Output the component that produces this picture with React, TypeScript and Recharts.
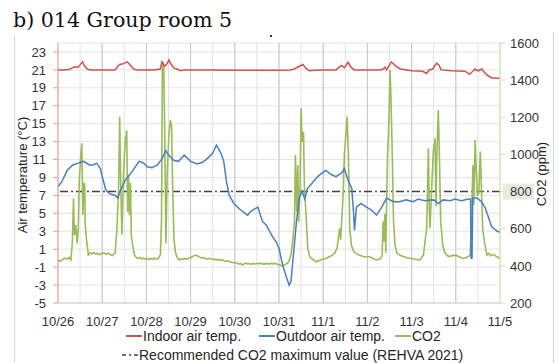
import React from "react";
import { LineChart, Line, XAxis, YAxis, CartesianGrid, ReferenceLine } from "recharts";

const dayLabels = ["10/26", "10/27", "10/28", "10/29", "10/30", "10/31", "11/1", "11/2", "11/3", "11/4", "11/5"];
const tempTicks = [-5, -3, -1, 1, 3, 5, 7, 9, 11, 13, 15, 17, 19, 21, 23];
const co2Ticks = [200, 400, 600, 800, 1000, 1200, 1400, 1600];
const co2Limit = 800;

// hours counted from 10/26 00:00
const indoorHours = [
  0, 3, 6, 7.5, 9, 11, 12.5, 13.3, 14.5, 16, 17.5, 20, 24, 28, 31, 32.5, 33.5, 35.6, 37.5, 39, 41, 43, 48, 52,
  55.5, 56.5, 58, 59.3, 60.2, 61.5, 63, 64.7, 66.5, 68.4, 72, 84, 96, 108, 121, 126, 128.4, 130, 133, 134.5,
  136.5, 140, 145, 151, 153.8, 155.5, 157.5, 159, 161, 168, 175, 176.5, 177.5, 178.4, 179.5, 181, 183.5, 186,
  192, 198, 200.2, 201.5, 203.5, 205.6, 207, 208, 214, 221, 223.5, 225.5, 226.5, 228, 230, 232.5, 235.5, 238, 240,
];
const indoorTemp = [
  21.0, 21.0, 21.05, 21.2, 21.35, 21.3, 21.7, 21.9, 21.4, 21.1, 21.0, 21.0, 20.98, 21.0, 21.0, 21.4, 21.6, 21.7,
  21.9, 21.6, 21.1, 21.0, 21.0, 21.0, 21.1, 21.9, 21.4, 21.7, 22.1, 21.6, 21.2, 21.1, 20.9, 21.0, 21.0, 20.98,
  20.97, 20.96, 20.95, 21.0, 21.1, 21.3, 21.6, 21.2, 20.9, 20.95, 21.0, 21.0, 21.5, 21.25, 21.85, 21.3, 21.0,
  21.0, 21.0, 21.1, 21.3, 21.0, 21.4, 21.9, 21.4, 21.1, 20.9, 20.85, 20.6, 21.0, 21.1, 21.75, 21.5, 21.0, 20.9,
  20.85, 20.5, 20.9, 21.1, 20.9, 21.1, 20.5, 20.1, 20.1, 20.05,
];

const outdoorHours = [
  0, 2, 5, 8, 11, 14, 17, 19, 21, 23, 24, 26, 28, 31, 32.5, 34, 36.5, 40, 44, 46.5, 48.5, 51, 54, 56.5, 58.5,
  60, 63, 65.5, 68.5, 72, 75.5, 78.5, 81, 84, 86, 88.5, 90, 91.5, 93, 95.5, 99, 103, 104.5, 108.5, 111, 113,
  116.5, 118.5, 120, 122, 124, 125.5, 126.5, 127.5, 129.5, 131, 132.5, 134, 135.5, 138.5, 141, 144, 145.5,
  148.5, 151, 154, 155.5, 157.5, 159.5, 160.5, 161, 162, 164.5, 167.5, 170, 173, 175.5, 178.5, 182, 185.5,
  189, 193, 195.5, 199, 204, 206.5, 209, 213, 215.5, 219, 223, 224, 224.3, 224.8, 225.2, 227.5, 230, 232, 234,
  235.5, 238.5, 240,
];
const outdoorTemp = [
  8.0, 8.5, 9.8, 10.4, 10.6, 10.8, 10.4, 10.4, 10.6, 10.0, 9.1, 7.6, 7.2, 7.0, 6.7, 7.6, 8.7, 9.6, 10.8, 10.6,
  10.2, 10.1, 10.4, 11.1, 12.0, 11.5, 10.9, 10.8, 11.5, 10.8, 10.5, 10.7, 11.1, 11.7, 12.6, 11.7, 10.8, 8.5,
  7.0, 6.1, 5.4, 4.8, 5.2, 5.7, 4.1, 3.7, 2.4, 1.8, 1.1, -0.8, -2.1, -3.0, -2.6, -0.4, 4.1, 6.7, 7.5, 6.6,
  7.8, 8.5, 9.1, 9.6, 9.8, 9.3, 9.1, 9.5, 10.0, 8.7, 7.8, 5.0, 3.1, 5.7, 6.1, 5.7, 5.4, 4.8, 5.6, 6.7, 6.3,
  6.3, 6.5, 6.3, 6.6, 6.4, 6.5, 6.1, 6.5, 6.4, 6.6, 6.4, 6.6, 6.6, 0.0, 0.0, 6.7, 6.7, 6.3, 5.6, 4.4, 3.5,
  3.0, 2.9,
];

const co2Hours = [
  0, 1, 2, 3, 4, 5, 6, 7, 7.8, 8.4, 8.9, 9.6, 10.4, 11, 11.6, 12.4, 12.9, 13.5, 14.1, 14.5, 14.8, 15.6, 16.5,
  17.5, 18.5, 19.5, 20.5, 21.5, 22.5, 23.5, 24.5, 25.5, 26.5, 27.5, 28.5, 29.5, 30.5, 31, 32, 32.9, 33.5, 34,
  34.7, 35.6, 36.5, 37.3, 37.8, 38.3, 38.8, 39.4, 39.8, 40.7, 41.5, 42.5, 43.5, 44.5, 45.5, 46.5, 47.5, 48.5,
  49.5, 50.5, 51.5, 52.5, 53.5, 54.5, 55.6, 56.2, 56.7, 57.4, 58, 58.6, 59.3, 60.2, 61, 61.7, 62.3, 63, 63.8,
  65, 66, 67, 68, 69, 70, 71, 72, 73, 74, 75, 76, 77, 78, 79, 80, 81, 82, 83, 84, 85, 86, 87, 88, 89, 90, 91,
  92, 93, 94, 95, 96, 97, 98, 99, 100, 101, 102, 103, 104, 105, 106, 107, 108, 109, 110, 111, 112, 113, 114,
  115, 116, 117, 118, 119, 120, 121, 122, 123, 124, 124.7, 125.5, 126.5, 127.5, 128.4, 128.9, 129.6, 130.2,
  130.7, 131.4, 132, 132.5, 133.3, 133.8, 134.7, 135.6, 136.5, 137.5, 139, 140.2, 141.5, 143, 144.5, 145.6,
  147, 148.5, 150.2, 151.5, 152.9, 153.5, 154, 154.8, 155.5, 156.2, 157, 157.7, 158.4, 159.3, 160.5, 162.5,
  164.5, 166.5, 169, 171, 173, 175, 176, 176.5, 177, 177.5, 178, 178.5, 179, 179.5, 180.3, 180.9, 181.5, 182.2,
  183, 184, 185.5, 187.5, 190, 192, 194, 196.5, 198.4, 199.3, 200.2, 201.1, 201.6, 202, 202.9, 203.8, 204.7,
  205.3, 205.6, 206.5, 207.1, 207.8, 208.9, 210.2, 212, 214, 216, 218, 220, 222, 223.8, 224.5, 225.3, 225.8,
  226.5, 227, 227.7, 228.5, 229.3, 229.9, 230.6, 231.5, 232.9, 234, 235, 236.5, 238, 239, 240,
];
const co2Ppm = [
  432, 425, 430, 438, 442, 436, 445, 432, 530, 764, 566, 620, 521, 600, 871, 1000, 1060, 674, 846, 835, 620,
  530, 458, 470, 465, 472, 462, 468, 460, 465, 470, 466, 462, 468, 460, 456, 465, 470, 602, 817, 1203, 870,
  566, 907, 1069, 1130, 692, 889, 674, 846, 560, 503, 458, 446, 440, 445, 437, 442, 436, 440, 434, 440, 435,
  442, 436, 440, 460, 640, 1500, 1480, 1080, 520, 900, 1105, 1185, 1150, 800, 540, 470, 440, 432, 438, 435,
  440, 436, 442, 444, 450, 455, 458, 452, 447, 442, 445, 440, 436, 441, 438, 434, 436, 432, 435, 430, 433,
  428, 425, 427, 423, 420, 418, 415, 418, 410, 413, 405, 410, 415, 410, 412, 408, 413, 410, 414, 411, 415,
  409, 412, 410, 413, 409, 415, 410, 414, 408, 406, 402, 401, 406, 412, 414, 428, 458, 540, 638, 997, 692,
  943, 638, 819, 1248, 1069, 1122, 819, 674, 494, 455, 440, 430, 422, 428, 434, 438, 440, 448, 455, 468, 494,
  602, 540, 638, 781, 1000, 1087, 1203, 997, 602, 512, 478, 462, 455, 448, 450, 440, 432, 438, 455, 640, 530,
  680, 470, 780, 1015, 1120, 1455, 1266, 997, 638, 512, 470, 458, 450, 442, 440, 436, 432, 458, 530, 600,
  1033, 710, 602, 819, 1015, 1087, 720, 961, 1239, 997, 638, 512, 468, 450, 455, 458, 448, 440, 445, 458, 638,
  943, 728, 1078, 943, 781, 790, 1015, 819, 602, 530, 458, 468, 455, 462, 450, 445, 440,
];

const toPoints = (hours: number[], values: number[]) => hours.map((h, i) => ({ h, v: values[i] }));

const indoorData = toPoints(indoorHours, indoorTemp);
const outdoorData = toPoints(outdoorHours, outdoorTemp);
const co2Data = toPoints(co2Hours, co2Ppm);

const dayHours = dayLabels.map((_, i) => i * 24);
const hourTicks = dayHours.flatMap((h, i) => (i < dayHours.length - 1 ? [h, h + 12] : [h]));

const INDOOR = "#d0504f";
const OUTDOOR = "#4a7ec4";
const CO2 = "#9bbb59";
const LIMIT = "#404040";
const FONT = "'Liberation Sans', Arial, sans-serif";

function Co2Tick(props: any) {
  const { x, y, payload } = props;
  const hl = payload.value === co2Limit;
  return (
    <g>
      {hl && <rect x={x - 7} y={y - 8} width={31} height={16} fill="#e8ebe0" />}
      <text x={x} y={y} dy="0.36em" textAnchor="start" fontSize={13} fontFamily={FONT} fill="#333">
        {payload.value}
      </text>
    </g>
  );
}

function LegendLine({ color, dash }: { color: string; dash?: string }) {
  return (
    <svg width={16} height={10} style={{ marginRight: 1 }}>
      <line x1={0} y1={5} x2={16} y2={5} stroke={color} strokeWidth={dash ? 1.5 : 2} strokeDasharray={dash} />
    </svg>
  );
}

export default function App() {
  const legendRow: React.CSSProperties = {
    position: "absolute",
    display: "flex",
    alignItems: "center",
    fontFamily: FONT,
    fontSize: 14,
    color: "#262626",
    whiteSpace: "nowrap",
  };
  return (
    <div style={{ position: "absolute", left: 0, top: 0, width: 558, height: 363, background: "#fff", overflow: "hidden" }}>
      <div
        style={{
          position: "absolute",
          left: 13,
          top: 10,
          fontFamily: "'DejaVu Serif', serif",
          fontSize: 20.6,
          lineHeight: "21px",
          color: "#111",
          whiteSpace: "nowrap",
        }}
      >
        b) 014 Group room 5
      </div>
      <div style={{ position: "absolute", left: 270, top: 35, width: 2, height: 2, background: "#333" }} />
      <div style={{ position: "absolute", left: 14, top: 36, width: 1, height: 327, background: "#d4d4d4" }} />
      <div style={{ position: "absolute", left: 553, top: 33, width: 1, height: 330, background: "#d4d4d4" }} />

      <div style={{ position: "absolute", left: 0, top: 0 }}>
        <LineChart width={558} height={363} margin={{ top: 43, right: 18, bottom: 30, left: 14 }}>
          <CartesianGrid yAxisId="temp" stroke="#e4e4e4" strokeWidth={1} />
          {dayHours.slice(1, -1).map((h) => (
            <ReferenceLine key={h} x={h} yAxisId="temp" stroke="#c6c6c6" strokeWidth={1} />
          ))}
          <XAxis
            dataKey="h"
            type="number"
            domain={[0, 240]}
            ticks={hourTicks}
            interval={0}
            allowDuplicatedCategory={false}
            tickFormatter={(h: number) => (h % 24 === 0 ? dayLabels[h / 24] : "")}
            tick={{ fontSize: 13, fill: "#333", fontFamily: FONT }}
            tickLine={false}
            tickMargin={8}
            axisLine={{ stroke: "#d0d0d0" }}
            height={30}
          />
          <YAxis
            yAxisId="temp"
            orientation="left"
            type="number"
            domain={[-5, 24]}
            ticks={tempTicks}
            interval={0}
            allowDataOverflow
            width={44}
            tick={{ fontSize: 13, fill: "#333", fontFamily: FONT }}
            tickSize={5}
            tickMargin={7}
            tickLine={{ stroke: "#e39a98" }}
            axisLine={{ stroke: "#e39a98" }}
          />
          <YAxis
            yAxisId="co2"
            orientation="right"
            type="number"
            domain={[200, 1600]}
            ticks={co2Ticks}
            interval={0}
            allowDataOverflow
            width={40}
            tick={<Co2Tick />}
            tickSize={5}
            tickMargin={5}
            tickLine={{ stroke: "#cfe0b0" }}
            axisLine={{ stroke: "#cfe0b0" }}
          />
          <ReferenceLine
            y={co2Limit}
            yAxisId="co2"
            stroke={LIMIT}
            strokeWidth={1.6}
            strokeDasharray="8 3 2 3"
          />
          <Line
            data={co2Data}
            dataKey="v"
            yAxisId="co2"
            name="CO2"
            type="linear"
            stroke={CO2}
            strokeWidth={1.6}
            dot={false}
            isAnimationActive={false}
          />
          <Line
            data={outdoorData}
            dataKey="v"
            yAxisId="temp"
            name="Outdoor air temp."
            type="linear"
            stroke={OUTDOOR}
            strokeWidth={1.5}
            dot={false}
            isAnimationActive={false}
          />
          <Line
            data={indoorData}
            dataKey="v"
            yAxisId="temp"
            name="Indoor air temp."
            type="linear"
            stroke={INDOOR}
            strokeWidth={1.5}
            dot={false}
            isAnimationActive={false}
          />
        </LineChart>
      </div>

      <div
        style={{
          position: "absolute",
          left: 22,
          top: 175,
          transform: "translate(-50%, -50%) rotate(-90deg)",
          fontFamily: FONT,
          fontSize: 13,
          color: "#262626",
          whiteSpace: "nowrap",
        }}
      >
        Air temperature (°C)
      </div>
      <div
        style={{
          position: "absolute",
          left: 541,
          top: 174,
          transform: "translate(-50%, -50%) rotate(-90deg)",
          fontFamily: FONT,
          fontSize: 13,
          color: "#262626",
          whiteSpace: "nowrap",
        }}
      >
        CO2 (ppm)
      </div>

      <div style={{ ...legendRow, left: 126, top: 327, height: 18 }}>
        <LegendLine color={INDOOR} />
        <span>Indoor air temp.</span>
        <span style={{ width: 18 }} />
        <LegendLine color={OUTDOOR} />
        <span>Outdoor air temp.</span>
        <span style={{ width: 10 }} />
        <LegendLine color={CO2} />
        <span>CO2</span>
      </div>
      <div style={{ ...legendRow, left: 122, top: 346, height: 18 }}>
        <LegendLine color={LIMIT} dash="4 3 2 3" />
        <span>Recommended CO2 maximum value (REHVA 2021)</span>
      </div>
    </div>
  );
}
